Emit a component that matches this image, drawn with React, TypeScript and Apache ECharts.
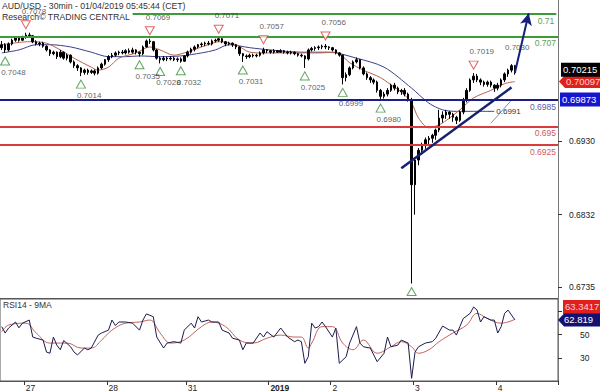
import React, { useEffect, useRef } from 'react';
import * as echarts from 'echarts';

const FONT = 'Liberation Sans, Arial, sans-serif';

// ---- time axis (hourly bars) ----
const dayNames = ['26 Dec', '27 Dec', '28 Dec', '31 Dec', '01 Jan', '02 Jan', '03 Jan', '04 Jan'];
const dayLabels = ['', '27', '28', '31', '2019', '2', '3', '4'];
const dayFirstHour = [17, 0, 0, 0, 6, 0, 0, 0];
const dayLastHour = [23, 23, 22, 23, 23, 23, 23, 17];

// ---- price candles [open, close, low, high] ----
const candles: number[][] = [
  [0.7055,0.7059,0.7052,0.7064],[0.7059,0.7052,0.7048,0.7061],[0.7052,0.7060,0.7050,0.7062],[0.7060,0.7065,0.7058,0.7067],
  [0.7065,0.7068,0.7063,0.7070],[0.7068,0.7065,0.7063,0.7070],[0.7065,0.7069,0.7064,0.7071],[0.7069,0.7072,0.7067,0.7075],
  [0.7072,0.7071,0.7068,0.7075],[0.7071,0.7063,0.7061,0.7072],[0.7063,0.7060,0.7058,0.7065],[0.7060,0.7061,0.7057,0.7063],
  [0.7061,0.7057,0.7055,0.7063],[0.7057,0.7052,0.7050,0.7058],[0.7052,0.7047,0.7044,0.7053],[0.7047,0.7049,0.7045,0.7051],
  [0.7049,0.7043,0.7040,0.7050],[0.7043,0.7049,0.7041,0.7052],[0.7049,0.7041,0.7039,0.7050],[0.7041,0.7045,0.7038,0.7047],
  [0.7045,0.7036,0.7034,0.7046],[0.7036,0.7031,0.7028,0.7038],[0.7031,0.7028,0.7024,0.7033],[0.7028,0.7022,0.7017,0.7029],
  [0.7022,0.7025,0.7019,0.7027],[0.7025,0.7022,0.7019,0.7027],[0.7022,0.7024,0.7020,0.7026],[0.7024,0.7021,0.7018,0.7026],
  [0.7021,0.7028,0.7019,0.7030],[0.7028,0.7033,0.7026,0.7035],[0.7033,0.7039,0.7031,0.7040],[0.7039,0.7043,0.7036,0.7045],
  [0.7043,0.7045,0.7041,0.7048],[0.7045,0.7048,0.7043,0.7050],[0.7048,0.7049,0.7045,0.7051],[0.7049,0.7048,0.7046,0.7052],
  [0.7048,0.7051,0.7046,0.7053],[0.7051,0.7049,0.7047,0.7054],[0.7049,0.7052,0.7047,0.7055],[0.7052,0.7049,0.7046,0.7053],
  [0.7049,0.7047,0.7043,0.7050],[0.7047,0.7056,0.7045,0.7058],[0.7056,0.7064,0.7055,0.7066],[0.7064,0.7063,0.7060,0.7067],
  [0.7063,0.7052,0.7050,0.7064],[0.7052,0.7041,0.7039,0.7053],[0.7041,0.7039,0.7034,0.7043],[0.7039,0.7041,0.7037,0.7044],
  [0.7041,0.7040,0.7037,0.7043],[0.7040,0.7041,0.7038,0.7044],[0.7041,0.7039,0.7037,0.7043],[0.7039,0.7040,0.7036,0.7042],
  [0.7040,0.7037,0.7035,0.7042],[0.7037,0.7044,0.7036,0.7045],[0.7044,0.7049,0.7042,0.7051],[0.7049,0.7053,0.7047,0.7055],
  [0.7053,0.7056,0.7050,0.7058],[0.7056,0.7059,0.7054,0.7060],[0.7059,0.7060,0.7056,0.7062],[0.7060,0.7061,0.7057,0.7063],
  [0.7061,0.7060,0.7058,0.7064],[0.7060,0.7064,0.7058,0.7066],[0.7064,0.7065,0.7062,0.7067],[0.7065,0.7067,0.7063,0.7069],
  [0.7067,0.7063,0.7061,0.7068],[0.7063,0.7060,0.7057,0.7064],[0.7060,0.7061,0.7058,0.7063],[0.7061,0.7059,0.7056,0.7062],
  [0.7059,0.7056,0.7053,0.7060],[0.7056,0.7047,0.7044,0.7057],[0.7047,0.7044,0.7036,0.7048],[0.7044,0.7043,0.7040,0.7046],
  [0.7043,0.7045,0.7041,0.7047],[0.7045,0.7044,0.7042,0.7047],[0.7044,0.7045,0.7042,0.7047],[0.7045,0.7048,0.7043,0.7050],
  [0.7048,0.7052,0.7046,0.7055],[0.7052,0.7051,0.7048,0.7053],[0.7051,0.7049,0.7047,0.7052],[0.7049,0.7051,0.7047,0.7053],
  [0.7051,0.7049,0.7048,0.7052],[0.7049,0.7051,0.7048,0.7053],[0.7051,0.7049,0.7047,0.7052],[0.7049,0.7048,0.7046,0.7051],
  [0.7048,0.7049,0.7046,0.7051],[0.7049,0.7047,0.7045,0.7050],[0.7047,0.7045,0.7043,0.7048],[0.7045,0.7044,0.7042,0.7047],
  [0.7044,0.7040,0.7028,0.7045],[0.7040,0.7052,0.7038,0.7054],[0.7052,0.7054,0.7050,0.7056],[0.7054,0.7055,0.7051,0.7057],
  [0.7055,0.7056,0.7052,0.7058],[0.7056,0.7057,0.7053,0.7059],[0.7057,0.7056,0.7053,0.7060],[0.7056,0.7055,0.7052,0.7057],
  [0.7055,0.7052,0.7050,0.7056],[0.7052,0.7048,0.7046,0.7053],[0.7048,0.7045,0.7043,0.7049],[0.7045,0.7015,0.7006,0.7046],
  [0.7015,0.7019,0.7010,0.7022],[0.7019,0.7028,0.7017,0.7030],[0.7028,0.7036,0.7026,0.7038],[0.7036,0.7039,0.7034,0.7042],
  [0.7039,0.7028,0.7026,0.7040],[0.7028,0.7020,0.7018,0.7030],[0.7020,0.7015,0.7012,0.7022],[0.7015,0.7012,0.7008,0.7017],
  [0.7012,0.7009,0.7006,0.7014],[0.7009,0.6998,0.6995,0.7011],[0.6998,0.6990,0.6985,0.7000],[0.6990,0.6993,0.6987,0.6996],
  [0.6993,0.6998,0.6990,0.7001],[0.6998,0.7005,0.6996,0.7007],[0.7005,0.7001,0.6998,0.7008],[0.7001,0.6996,0.6993,0.7003],
  [0.6996,0.6998,0.6992,0.7000],[0.6998,0.6993,0.6990,0.7001],[0.6993,0.6985,0.6983,0.6995],[0.6985,0.6872,0.6740,0.6988],
  [0.6872,0.6905,0.6832,0.6908],[0.6905,0.6918,0.6898,0.6921],[0.6918,0.6925,0.6912,0.6928],[0.6925,0.6932,0.6920,0.6935],
  [0.6932,0.6934,0.6926,0.6937],[0.6934,0.6938,0.6928,0.6940],[0.6938,0.6945,0.6932,0.6947],[0.6945,0.6961,0.6942,0.6972],
  [0.6961,0.6965,0.6955,0.6970],[0.6965,0.6969,0.6960,0.6972],[0.6969,0.6966,0.6960,0.6970],[0.6966,0.6962,0.6956,0.6968],
  [0.6962,0.6958,0.6953,0.6964],[0.6958,0.6969,0.6956,0.6971],[0.6969,0.6985,0.6966,0.6988],[0.6985,0.6998,0.6982,0.7001],
  [0.6998,0.7012,0.6996,0.7014],[0.7012,0.7017,0.7008,0.7021],[0.7017,0.7012,0.7009,0.7020],[0.7012,0.7009,0.7005,0.7014],
  [0.7009,0.7006,0.7003,0.7011],[0.7006,0.7009,0.7003,0.7011],[0.7009,0.7005,0.7002,0.7011],[0.7005,0.7001,0.6996,0.7006],
  [0.7001,0.7005,0.6998,0.7008],[0.7005,0.7012,0.7002,0.7014],[0.7012,0.7020,0.7009,0.7022],[0.7020,0.7025,0.7016,0.7027],
  [0.7025,0.7031,0.7022,0.7033],[0.7031,0.70215,0.7019,0.7032],
];

// ---- moving averages on price, [barIndex, value] ----
const maFast: number[][] = [
  [0,0.7059],[8,0.7063],[13,0.7061],[17,0.7052],[21,0.7041],[26,0.7029],[28,0.7025],[31,0.7029],[34,0.7041],[39,0.7048],
  [43,0.7056],[46,0.7052],[50,0.7045],[53,0.7048],[58,0.7056],[60,0.7059],[63,0.7063],[68,0.7059],[72,0.7049],[76,0.7048],
  [82,0.7048],[87,0.7048],[92,0.7048],[97,0.7049],[101,0.7035],[105,0.7025],[110,0.7015],[114,0.7002],[116,0.6996],
  [119,0.6981],[121,0.6961],[124,0.6948],[127,0.6952],[130,0.6961],[133,0.6972],[137,0.6988],[142,0.6998],[146,0.7007],[149,0.70097],
];
const maSlow: number[][] = [
  [0,0.7048],[5,0.7052],[10,0.7059],[14,0.7059],[20,0.7056],[26,0.7049],[31,0.7043],[36,0.7043],[40,0.7044],[46,0.7043],
  [52,0.7044],[58,0.7048],[62,0.7052],[66,0.7059],[72,0.7055],[78,0.7052],[87,0.7049],[95,0.7049],[103,0.7041],[111,0.7029],
  [119,0.7001],[124,0.6981],[128,0.6972],[132,0.6970],[143,0.6970],
];
const lowerBand: number[][] = [[142,0.6954],[148,0.6985]];

// ---- RSI(14) and its 9MA ----
const rsi: number[][] = [
  [0,57],[1,51.5],[2,55.8],[4,61],[5,56],[6,60],[8,62.7],[9,48],[10,47],[12,45.4],[13,35],[14,34],[15,48],[16,41],[17,37],
  [18,45],[20,39.6],[21,35],[22,32.5],[24,38.5],[25,37],[26,38.5],[28,49.7],[29,51.5],[31,54],[32,62.7],[33,58],[34,61],
  [36,61],[38,60],[40,54],[41,62.7],[42,68],[44,65.6],[45,48],[47,38.5],[48,42.8],[50,44],[52,42.8],[53,54],[55,60],[56,55.8],
  [57,65.6],[58,61],[60,62.7],[61,61],[63,61],[64,54],[66,51.5],[67,47],[69,45.4],[70,37],[71,42.8],[73,42.8],[75,51.5],
  [76,48],[77,52.6],[79,48],[81,55.8],[83,48],[85,44],[86,45.4],[87,44],[88,25.3],[89,31],[90,60],[91,55.8],[92,57],[93,61],
  [94,57],[96,48],[97,55.8],[98,25.3],[100,31],[101,42.8],[103,57],[104,42.8],[105,39.6],[107,38.5],[109,26.7],[111,34],
  [112,48],[113,39.6],[115,41],[116,45.4],[118,42.8],[119,12.3],[120,35],[121,39.6],[123,42.8],[125,44],[126,47],[128,57.5],
  [130,54],[131,54],[132,49.7],[133,57],[134,64],[136,68.5],[137,74],[138,71.3],[139,61],[140,65.6],[142,62.7],[143,62.7],
  [144,51.5],[145,57],[146,68.5],[147,71.3],[149,62.819],
];
const rsiMa: number[][] = [
  [0,52.6],[2,58.4],[7,60],[10,51.5],[14,42.8],[19,42.8],[23,38.5],[26,38.5],[29,45.4],[32,54],[36,60],[40,61],[43,62.7],
  [46,51.5],[49,42.8],[53,45.4],[58,57],[61,61],[65,57],[69,45.4],[73,42.8],[77,47],[81,49.7],[85,48],[87,48],[89,38.5],
  [90,42.8],[93,57],[96,57],[99,42.8],[102,37],[105,45.4],[109,34],[113,39.6],[116,44],[119,39.6],[121,34],[124,37],[127,44],
  [131,51.5],[135,58.4],[138,68.5],[141,64],[145,60],[149,63.3],
];

// ---- pivots ----
const upPivotIdx = [1, 23, 40, 46, 52, 70, 88, 99, 110, 119];
const upPivotText = ['0.7048', '0.7014', '0.7035', '0.7028', '0.7032', '0.7031', '0.7025', '0.6999', '0.6980', ''];
const downPivotIdx = [7, 43, 63, 76, 94, 137];
const downPivotText = ['0.7078', '0.7069', '0.7071', '0.7057', '0.7056', '0.7019'];
const noteIdx = 148;
const noteText = '0.7030';

// ---- horizontal levels ----
const levels = [0.71, 0.707, 0.6985, 0.695, 0.6925];
const levelText = ['0.71', '0.707', '0.6985', '0.695', '0.6925'];
const levelStartIdx = [38, 0, 0, 0, 0];
const levelColor = ['#3f9a3a', '#3f9a3a', '#1d1d88', '#d83c3c', '#d83c3c'];
const levelTextColor = ['#5aa050', '#5aa050', '#5a5aa8', '#d05a5a', '#d05a5a'];

// trend line and projection arrow [barIndex, price]
const trendLine = [[116, 0.6894], [148, 0.7002]];
const arrowLine = [[149, 0.7022], [153, 0.7101]];
const marker6991Text = '0.6991';

const priceTicks = [0.6735, 0.6832, 0.693];
const rsiTicks = [30, 50, 70];
const rsiLabels = [30, 50];

const lastClose = 0.70215;
const lastMaFast = 0.70097;
const lastMaSlow = 0.69873;
const lastRsi = 62.819;
const lastRsiMa = '63.3417';

export default function App() {
  const ref = useRef<HTMLDivElement>(null);
  useEffect(() => {
    document.body.style.margin = '0';
    const chart = echarts.init(ref.current as HTMLDivElement, null, { renderer: 'svg' });

    const categories: string[] = [];
    const dayStart = new Map<number, string>();
    dayNames.forEach((d, k) => {
      for (let h = dayFirstHour[k]; h <= dayLastHour[k]; h++) {
        if (h === dayFirstHour[k] && dayLabels[k]) dayStart.set(categories.length, dayLabels[k]);
        categories.push(`${d} ${String(h).padStart(2, '0')}:00`);
      }
    });
    const lastIdx = categories.length - 1;
    const isDayStart = (i: number) => dayStart.has(i);

    const levelLines: any[] = levels.map((v, k) => {
      const lineStyle = { color: levelColor[k], width: 2, type: 'solid' };
      const label = { show: true, position: 'insideEndBottom', formatter: levelText[k], color: levelTextColor[k], fontSize: 8.5, fontFamily: FONT, distance: 2 };
      if (levelStartIdx[k] > 0) {
        return [{ coord: [levelStartIdx[k], v], lineStyle, label }, { coord: [lastIdx, v] }];
      }
      return { yAxis: v, lineStyle, label };
    });

    const option: any = {
      animation: false,
      textStyle: { fontFamily: FONT },
      grid: [
        { left: 0, right: 42, top: 0, height: 298 },
        { left: 0, right: 42, top: 299, height: 82, show: true, borderColor: '#555', borderWidth: 1 },
      ],
      xAxis: [
        { type: 'category', gridIndex: 0, data: categories, boundaryGap: true,
          axisLine: { show: true, lineStyle: { color: '#555' } }, axisTick: { show: false }, axisLabel: { show: false }, splitLine: { show: false } },
        { type: 'category', gridIndex: 1, data: categories, boundaryGap: true,
          axisLine: { show: true, lineStyle: { color: '#555' } },
          axisTick: { show: true, interval: (i: number) => isDayStart(i), length: 4, lineStyle: { color: '#333' } },
          axisLabel: { show: true, interval: (i: number) => isDayStart(i), align: 'left', margin: 2, fontSize: 8.5, color: '#222',
            formatter: (_v: string, i: number) => { const l = dayStart.get(i) || ''; return l === '2019' ? '{b|2019}' : l; },
            rich: { b: { fontWeight: 'bold', fontSize: 8.5, color: '#222', fontFamily: FONT } } },
          splitLine: { show: false } },
      ],
      yAxis: [
        { type: 'value', gridIndex: 0, position: 'right', min: 0.67207, max: 0.71187,
          axisLine: { show: true, lineStyle: { color: '#777' } }, splitLine: { show: false },
          axisTick: { show: true, customValues: priceTicks, length: 4, lineStyle: { color: '#333' } },
          axisLabel: { customValues: priceTicks, formatter: (v: number) => v.toFixed(4), fontSize: 8.5, color: '#222', margin: 11 } },
        { type: 'value', gridIndex: 1, position: 'right', min: 10, max: 80.9,
          axisLine: { show: true, lineStyle: { color: '#777' } }, splitLine: { show: false },
          axisTick: { show: true, customValues: rsiTicks, length: 4, lineStyle: { color: '#333' } },
          axisLabel: { customValues: rsiLabels, fontSize: 8.5, color: '#222', margin: 22 } },
      ],
      series: [
        { type: 'line', name: 'maSlow', xAxisIndex: 0, yAxisIndex: 0, data: maSlow, smooth: 0.3, showSymbol: false, z: 2,
          lineStyle: { color: '#3b3f8c', width: 1 },
          endLabel: { show: true, formatter: marker6991Text, color: '#333', fontSize: 8, distance: 2 } },
        { type: 'line', name: 'band', xAxisIndex: 0, yAxisIndex: 0, data: lowerBand, showSymbol: false, z: 2,
          lineStyle: { color: '#8c8ca8', width: 1 } },
        { type: 'line', name: 'maFast', xAxisIndex: 0, yAxisIndex: 0, data: maFast, smooth: 0.3, showSymbol: false, z: 2,
          lineStyle: { color: '#b8604f', width: 1 } },
        { type: 'candlestick', name: 'AUD/USD', xAxisIndex: 0, yAxisIndex: 0, data: candles, barWidth: 2, z: 3,
          itemStyle: { color: '#000', color0: '#000', borderColor: '#000', borderColor0: '#000', borderWidth: 1 } },
        { type: 'line', name: 'levels', xAxisIndex: 0, yAxisIndex: 0, data: [], z: 5,
          markLine: { silent: true, symbol: ['none', 'none'], animation: false, precision: 6,
            data: [
              ...levelLines,
              [{ coord: trendLine[0], lineStyle: { color: '#17226e', width: 2.5, type: 'solid' }, label: { show: false } }, { coord: trendLine[1] }],
              [{ coord: arrowLine[0], symbol: 'none', lineStyle: { color: '#14207a', width: 2, type: 'solid' }, label: { show: false } },
               { coord: arrowLine[1], symbol: 'arrow', symbolSize: [9, 12] }],
            ] } },
        { type: 'scatter', name: 'lows', xAxisIndex: 0, yAxisIndex: 0, z: 6,
          symbol: 'path://M5,0 L10,9 L0,9 Z', symbolSize: [9, 8], symbolOffset: [0, 8],
          itemStyle: { color: '#fff', borderColor: '#3a8f3a', borderWidth: 1 },
          label: { show: true, formatter: '{b}', position: [1, 12], align: 'left', verticalAlign: 'top', fontSize: 8, color: '#333' },
          data: upPivotIdx.map((idx, k) => ({ name: upPivotText[k], value: [idx, candles[idx][2]] })) },
        { type: 'scatter', name: 'highs', xAxisIndex: 0, yAxisIndex: 0, z: 6,
          symbol: 'path://M0,0 L10,0 L5,9 Z', symbolSize: [9, 8], symbolOffset: [0, -8],
          itemStyle: { color: '#fff', borderColor: '#d84040', borderWidth: 1 },
          label: { show: true, formatter: '{b}', position: [1, -13], align: 'left', verticalAlign: 'top', fontSize: 8, color: '#333' },
          data: downPivotIdx.map((idx, k) => ({ name: downPivotText[k], value: [idx, candles[idx][3]] })) },
        { type: 'scatter', name: 'note', xAxisIndex: 0, yAxisIndex: 0, z: 6, symbol: 'rect', symbolSize: 1,
          itemStyle: { color: 'rgba(0,0,0,0)' },
          label: { show: true, formatter: '{b}', position: [-6, -20], align: 'left', verticalAlign: 'top', fontSize: 8, color: '#333' },
          data: [{ name: noteText, value: [noteIdx, candles[noteIdx][3]] }] },
        { type: 'line', name: 'RSI14', xAxisIndex: 1, yAxisIndex: 1, data: rsi, showSymbol: false, z: 3,
          lineStyle: { color: '#1b1b4e', width: 1 } },
        { type: 'line', name: '9MA', xAxisIndex: 1, yAxisIndex: 1, data: rsiMa, smooth: 0.4, showSymbol: false, z: 2,
          lineStyle: { color: '#c0645a', width: 1 } },
      ],
    };
    chart.setOption(option);

    const py = (v: number) => chart.convertToPixel({ yAxisIndex: 0 }, v) as number;
    const ry = (v: number) => chart.convertToPixel({ yAxisIndex: 1 }, v) as number;
    const txt = (x: number, y: number, text: string, fill: string, size: number, extra: any = {}) => ({
      type: 'text', x, y, z: 100, silent: true,
      style: { text, fill, fontSize: size, fontFamily: FONT, textVerticalAlign: 'middle', ...extra },
    });
    const arrowBox = (x0: number, yc: number, fill: string) => ({
      type: 'polygon', z: 99, silent: true,
      shape: { points: [[x0, yc], [x0 + 6, yc - 6.5], [600, yc - 6.5], [600, yc + 6.5], [x0 + 6, yc + 6.5]] },
      style: { fill },
    });
    const rectBox = (x0: number, yc: number, fill: string) => ({
      type: 'rect', z: 99, silent: true, shape: { x: x0, y: yc - 7, width: 600 - x0, height: 14 }, style: { fill },
    });

    const yRed = py(lastMaFast);
    const yBlack = py(lastClose) - 3;
    const yBlue = py(lastMaSlow) + 1;
    const yRsi = ry(lastRsi);
    const yRsiMa = yRsi - 13;

    chart.setOption({
      graphic: { elements: [
        txt(2, 6, 'AUD/USD - 30min - 01/04/2019 05:45:44 (CET)', '#333', 8.7),
        txt(2, 16.5, 'Research© TRADING CENTRAL', '#333', 8.7),
        txt(3, 305, 'RSI14 - 9MA', '#333', 8.5),
        arrowBox(559, yRed, '#e0201c'),
        txt(566, yRed, lastMaFast.toFixed(5), '#ffd0d0', 9.5),
        rectBox(561, yBlack, '#000'),
        txt(563, yBlack, lastClose.toFixed(5), '#fff', 9.5),
        rectBox(560, yBlue, '#1616d0'),
        txt(562, yBlue, lastMaSlow.toFixed(5), '#fff', 9.5),
        rectBox(563, yRsiMa, '#e0201c'),
        txt(565, yRsiMa, lastRsiMa, '#ffd0d0', 9.5),
        arrowBox(558, yRsi, '#121272'),
        txt(564, yRsi, lastRsi.toFixed(3), '#fff', 9.5),
      ] },
    });

    return () => chart.dispose();
  }, []);
  return <div ref={ref} style={{ width: 600, height: 392 }} />;
}
